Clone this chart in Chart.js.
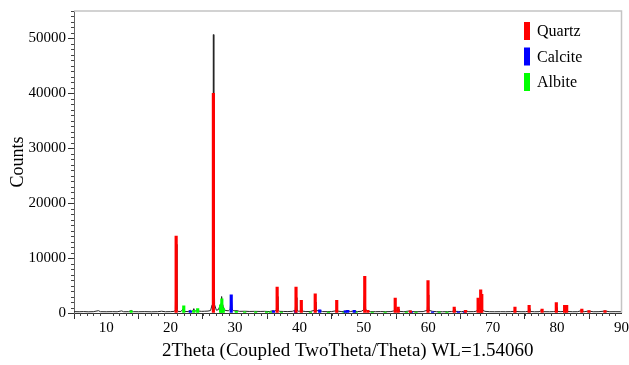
<!DOCTYPE html>
<html>
<head>
<meta charset="utf-8">
<script src="https://cdn.jsdelivr.net/npm/chart.js@4/dist/chart.umd.min.js"></script>
<style>
  html, body { margin: 0; padding: 0; background: #fff; }
</style>
</head>
<body>
<canvas id="xrdChart" width="629" height="365"></canvas>
<script>
// =========================
// DATA
// =========================
const xTicks = [10, 20, 30, 40, 50, 60, 70, 80, 90];
const yTicks = [0, 10000, 20000, 30000, 40000, 50000];

// measured pattern [2theta, counts]
const pattern = [
  [5, 250], [5.8, 230], [6.5, 260], [7.2, 220], [8, 240], [8.8, 420], [9.1, 240], [10, 230],
  [11, 250], [11.7, 220], [12.4, 380], [12.7, 230], [13.5, 240], [13.87, 450], [14.2, 240],
  [15, 230], [16, 250], [17, 220], [18, 240], [18.6, 320], [19.2, 230], [20, 250], [20.6, 300],
  [20.74, 600], [20.86, 12500], [20.98, 600], [21.1, 300], [21.6, 260], [22.04, 900], [22.2, 280],
  [22.7, 260], [23.06, 500], [23.2, 300], [23.45, 350], [23.6, 800], [23.75, 350], [24.0, 400],
  [24.2, 700], [24.35, 350], [24.8, 300], [25.3, 320], [25.8, 350], [26.2, 450],
  [26.45, 1500], [26.57, 12000], [26.64, 50700], [26.71, 12000], [26.83, 1500], [27.1, 500],
  [27.4, 600], [27.55, 1000], [27.7, 600], [27.85, 1800], [27.92, 3000], [28.0, 1400], [28.1, 1500],
  [28.25, 600], [28.6, 450], [29.0, 400], [29.25, 700], [29.4, 3200], [29.55, 700], [29.8, 400],
  [30.3, 420], [30.7, 300], [31.5, 320], [32.2, 280], [33.0, 300], [33.9, 280], [34.6, 300],
  [35.3, 260], [35.97, 420], [36.2, 300], [36.42, 600], [36.54, 3000], [36.66, 600], [36.9, 300],
  [37.5, 280], [38.2, 260], [38.9, 300], [39.35, 500], [39.47, 2800], [39.6, 500], [39.9, 300],
  [40.18, 400], [40.29, 1300], [40.42, 350], [41.0, 260], [41.7, 280], [42.35, 500], [42.45, 2000],
  [42.57, 400], [43.15, 450], [43.6, 260], [44.3, 250], [45.0, 260], [45.68, 400], [45.79, 1400],
  [45.92, 350], [46.6, 250], [47.12, 350], [47.5, 420], [47.9, 260], [48.5, 380], [49.0, 260],
  [49.6, 300], [50.0, 600], [50.14, 4500], [50.28, 600], [50.62, 400], [51.0, 250], [51.8, 240],
  [52.6, 260], [53.4, 240], [54.2, 260], [54.75, 400], [54.87, 1700], [55.0, 400], [55.2, 350],
  [55.33, 700], [55.45, 300], [56.2, 240], [57.23, 380], [57.6, 250], [58.4, 240], [59.2, 260],
  [59.85, 500], [59.96, 3300], [60.08, 500], [60.67, 300], [61.3, 240], [62.2, 230], [63.0, 250],
  [63.6, 260], [63.93, 350], [64.03, 700], [64.15, 300], [64.67, 280], [65.2, 240], [65.79, 380],
  [66.3, 240], [67.0, 250], [67.4, 300], [67.65, 500], [67.74, 1600], [67.85, 700], [68.0, 800],
  [68.14, 2400], [68.22, 1500], [68.31, 2000], [68.45, 500], [68.8, 300], [69.5, 240], [70.3, 230],
  [71.2, 240], [72.0, 230], [72.8, 250], [73.35, 300], [73.46, 700], [73.57, 280], [74.4, 230],
  [75.1, 240], [75.55, 300], [75.66, 800], [75.77, 280], [76.5, 230], [77.2, 240], [77.67, 500],
  [77.9, 240], [78.8, 230], [79.4, 250], [79.78, 300], [79.88, 1000], [79.98, 300], [80.6, 240],
  [81.05, 300], [81.17, 800], [81.3, 450], [81.49, 800], [81.6, 280], [82.4, 230], [83.2, 240],
  [83.84, 450], [84.2, 240], [84.95, 350], [85.6, 230], [86.5, 240], [87.44, 350], [88.2, 230],
  [89.0, 240], [90, 230]
];

// reference sticks [2theta, counts]
const quartz = [
  [20.86, 14000], [26.64, 40000], [36.54, 4700], [39.47, 4700], [40.29, 2300], [42.45, 3500],
  [45.79, 2300], [50.14, 6700], [50.62, 500], [54.87, 2700], [55.33, 1100], [57.23, 400],
  [59.96, 5900], [64.03, 1100], [65.79, 500], [67.74, 2700], [68.14, 4200], [68.31, 3400],
  [73.46, 1100], [75.66, 1400], [77.67, 700], [79.88, 1900], [81.17, 1400], [81.49, 1400],
  [83.84, 700], [84.95, 450], [87.44, 450]
];
const calcite = [
  [23.06, 400], [29.41, 3300], [35.97, 400], [39.4, 500], [43.15, 600], [47.12, 400],
  [47.5, 500], [48.51, 500], [57.4, 200], [60.67, 200], [64.67, 200], [65.6, 150]
];
const albite = [
  [13.87, 400], [22.04, 1300], [23.6, 500], [24.2, 800], [27.76, 1500], [27.95, 2600],
  [28.18, 900], [30.2, 300], [31.5, 200], [33.2, 200], [34.9, 200], [35.5, 200], [37.2, 150],
  [41.7, 150], [44.5, 150], [46.9, 150], [48.8, 150], [51.3, 150], [53.3, 150], [56.6, 150],
  [58.1, 150], [61.7, 150], [62.9, 150]
];

const toXY = arr => arr.map(([x, y]) => ({ x, y }));

// =========================
// PLUGINS
// =========================
const serif = "'Liberation Serif', 'Times New Roman', serif";

// minor ticks + grey frame on top/right
const framePlugin = {
  id: "frame",
  afterDraw(chart) {
    const { ctx, chartArea: a, scales } = chart;
    ctx.save();
    ctx.strokeStyle = "#c4c4c4";
    ctx.lineWidth = 1.5;
    ctx.beginPath();
    ctx.moveTo(a.left, a.top);
    ctx.lineTo(a.right, a.top);
    ctx.lineTo(a.right, a.bottom);
    ctx.stroke();

    ctx.strokeStyle = "#444";
    ctx.lineWidth = 1;
    ctx.beginPath();
    for (let v = 1000; v <= 55000; v += 1000) {
      if (v % 10000 === 0) continue;
      const py = Math.round(scales.y.getPixelForValue(v)) + 0.5;
      ctx.moveTo(a.left - 3, py);
      ctx.lineTo(a.left, py);
    }
    for (let v = 6; v < 90; v++) {
      if (v % 10 === 0) continue;
      const px = Math.round(scales.x.getPixelForValue(v)) + 0.5;
      ctx.moveTo(px, a.bottom);
      ctx.lineTo(px, a.bottom + 3);
    }
    ctx.stroke();
    ctx.restore();
  }
};

// phase legend, top right
const phaseLegend = {
  id: "phaseLegend",
  afterDraw(chart) {
    const { ctx } = chart;
    const phases = chart.data.datasets.filter(d => d.type !== "line");
    ctx.save();
    ctx.font = "16px " + serif;
    ctx.textBaseline = "middle";
    phases.forEach((d, i) => {
      const cy = 31 + i * 25.5;
      ctx.fillStyle = d.backgroundColor;
      ctx.fillRect(524, cy - 9, 6, 18);
      ctx.fillStyle = "#000";
      ctx.fillText(d.label, 537, cy + 1);
    });
    ctx.restore();
  }
};

// =========================
// CHART
// =========================
new Chart(document.getElementById("xrdChart"), {
  type: "bar",
  data: {
    datasets: [
      {
        type: "line",
        label: "Pattern",
        data: toXY(pattern),
        borderColor: "#262626",
        borderWidth: 1,
        pointRadius: 0,
        tension: 0,
        order: 2
      },
      { label: "Quartz", data: toXY(quartz), backgroundColor: "#ff0000", order: 1 },
      { label: "Calcite", data: toXY(calcite), backgroundColor: "#0000ff", order: 1 },
      { label: "Albite", data: toXY(albite), backgroundColor: "#00ff00", order: 1 }
    ]
  },
  options: {
    responsive: false,
    animation: false,
    layout: { padding: { top: 11, right: 7, left: 0, bottom: 0 } },
    datasets: {
      bar: { grouped: false, barThickness: 2.5, borderWidth: 0 }
    },
    plugins: {
      legend: { display: false },
      tooltip: { enabled: false }
    },
    scales: {
      x: {
        type: "linear",
        min: 5,
        max: 90,
        offset: false,
        afterBuildTicks: s => { s.ticks = xTicks.map(v => ({ value: v })); },
        afterFit: s => { s.height = 52; },
        ticks: {
          autoSkip: false,
          maxRotation: 0,
          padding: 0,
          color: "#000",
          font: { family: serif, size: 15 },
          callback: v => String(v)
        },
        grid: { drawOnChartArea: false, tickLength: 6, tickColor: "#333" },
        border: { color: "#333", width: 1 },
        title: {
          display: true,
          text: "2Theta (Coupled TwoTheta/Theta) WL=1.54060",
          color: "#000",
          font: { family: serif, size: 19 },
          padding: { top: 0, bottom: 3 }
        }
      },
      y: {
        min: 0,
        max: 55000,
        afterBuildTicks: s => { s.ticks = yTicks.map(v => ({ value: v })); },
        afterFit: s => { s.width = 74; },
        ticks: {
          padding: 2,
          color: "#000",
          font: { family: serif, size: 15 },
          callback: v => String(v)
        },
        grid: { drawOnChartArea: false, tickLength: 6, tickColor: "#333" },
        border: { color: "#666", width: 1 },
        title: {
          display: true,
          text: "Counts",
          color: "#000",
          font: { family: serif, size: 18 },
          padding: { top: 7, bottom: 0 }
        }
      }
    }
  },
  plugins: [framePlugin, phaseLegend]
});
</script>
</body>
</html>
